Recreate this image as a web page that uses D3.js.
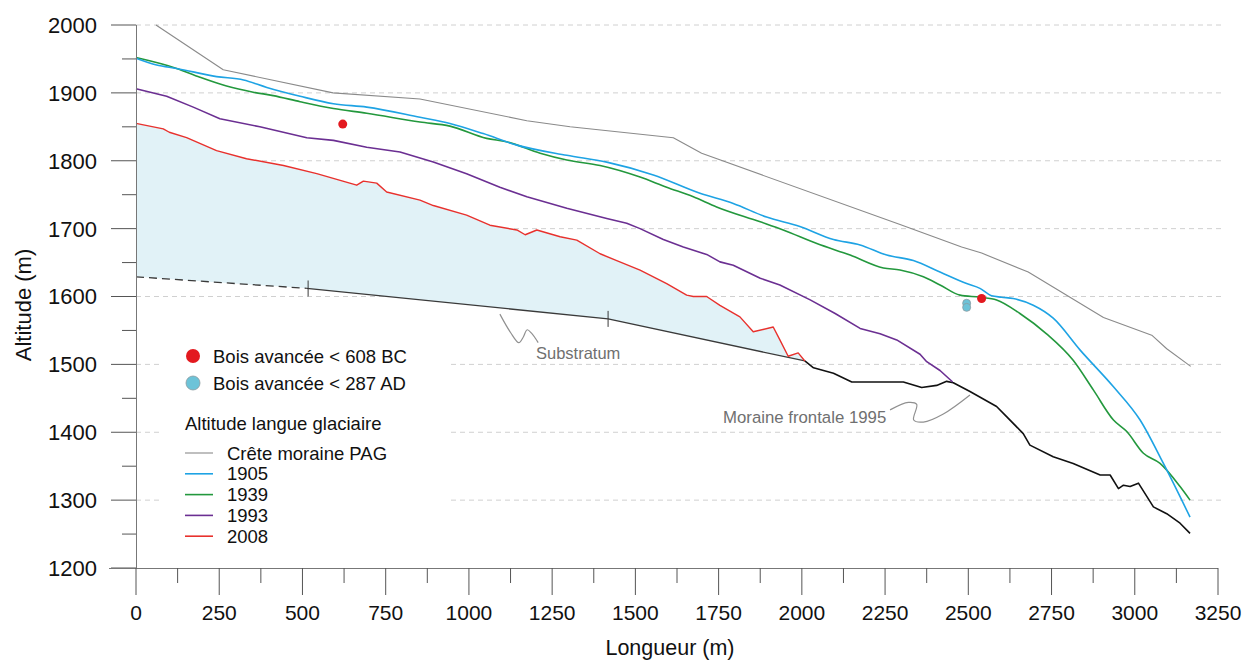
<!DOCTYPE html>
<html lang="fr">
<head>
<meta charset="UTF-8">
<script src="https://cdn.jsdelivr.net/npm/d3@7"></script>
<title>Profil glacier</title>
<style>
  body { margin: 0; background: #fff; }
  text { font-family: "Liberation Sans", Arial, sans-serif; }
</style>
</head>
<body>
<svg width="1246" height="661"></svg>
<script>
// profils en long [longueur (m), altitude (m)]
const moraine = [[60,2000],[262,1934],[592,1900],[853,1891],[1174,1859],[1304,1850],[1614,1834],[1699,1811],[2295,1706],[2480,1673],[2540,1664],[2680,1636],[2906,1569],[3051,1543],[3096,1523],[3168,1497]];
const y1905 = [[0,1951],[62,1941],[122,1936],[242,1924],[323,1919],[393,1908],[493,1895],[593,1884],[693,1879],[853,1864],[943,1855],[1043,1840],[1144,1823],[1294,1808],[1414,1798],[1554,1779],[1694,1752],[1794,1737],[1894,1717],[1994,1703],[2095,1684],[2175,1676],[2255,1661],[2335,1653],[2415,1636],[2495,1619],[2535,1612],[2570,1601],[2600,1599],[2635,1597],[2695,1587],[2755,1568],[2836,1521],[2936,1467],[3016,1418],[3086,1354],[3166,1275]];
const y1939 = [[0,1952],[122,1936],[192,1923],[272,1910],[352,1901],[412,1896],[493,1887],[593,1877],[693,1870],[853,1857],[943,1851],[1053,1833],[1113,1828],[1214,1811],[1294,1801],[1394,1793],[1514,1776],[1594,1761],[1674,1747],[1744,1732],[1875,1710],[1944,1698],[2045,1678],[2145,1661],[2245,1642],[2295,1639],[2365,1629],[2415,1617],[2475,1602],[2535,1599],[2585,1595],[2655,1575],[2735,1545],[2815,1506],[2876,1462],[2936,1418],[2976,1401],[3026,1369],[3076,1354],[3136,1320],[3166,1300]];
const y1993 = [[0,1906],[92,1895],[172,1879],[252,1862],[372,1850],[513,1834],[593,1830],[693,1820],[793,1813],[893,1798],[993,1781],[1093,1761],[1174,1747],[1294,1730],[1414,1715],[1474,1708],[1514,1700],[1584,1684],[1644,1673],[1714,1662],[1754,1651],[1794,1646],[1875,1627],[1934,1617],[2025,1595],[2100,1575],[2175,1553],[2235,1545],[2285,1536],[2355,1515],[2375,1504],[2415,1491],[2453,1474]];
const y2008 = [[0,1855],[82,1847],[100,1842],[152,1834],[242,1815],[332,1803],[443,1793],[543,1781],[663,1764],[683,1770],[723,1767],[753,1754],[853,1742],[893,1734],[993,1720],[1063,1705],[1144,1698],[1169,1691],[1204,1698],[1274,1688],[1324,1683],[1394,1663],[1444,1653],[1514,1639],[1594,1619],[1654,1602],[1674,1600],[1714,1600],[1754,1587],[1814,1570],[1854,1548],[1914,1555],[1934,1536],[1959,1512],[1989,1517],[2009,1505]];
const substratumDash = [[0,1629],[513,1612]];
const substratum = [[513,1612],[1418,1567],[2009,1505]];
const moraine1995 = [[2009,1505],[2035,1495],[2095,1487],[2150,1474],[2305,1474],[2360,1466],[2405,1469],[2435,1475],[2455,1473],[2505,1460],[2585,1438],[2615,1423],[2665,1398],[2685,1381],[2755,1364],[2815,1354],[2896,1337],[2926,1337],[2951,1317],[2966,1322],[2986,1320],[3011,1325],[3056,1290],[3096,1280],[3136,1266],[3166,1251]];
const crossMarks = [517, 1418];
const bois608 = [[621,1854],[2540,1597]];
const bois287 = [[2495,1590],[2495,1584]];

const xTicks = d3.range(0, 3251, 250);
const yTicks = d3.range(1200, 2001, 100);
const gridValues = d3.range(1300, 2001, 100);

const svg = d3.select('svg');
const x = d3.scaleLinear().domain([0, 3250]).range([136, 1218]);
const y = d3.scaleLinear().domain([1200, 2000]).range([568, 25]);

const col = {
  moraine: '#8a8a8a', y1905: '#1ea3e4', y1939: '#23983d',
  y1993: '#6b2f92', y2008: '#e8312d', sub: '#3a3a3a', fill: '#e1f2f7'
};

// quadrillage
svg.append('g').selectAll('line').data(gridValues).join('line')
  .attr('x1', x(0)).attr('x2', 1222)
  .attr('y1', d => y(d)).attr('y2', d => y(d))
  .attr('stroke', '#d0d0d0').attr('stroke-width', 1).attr('stroke-dasharray', '5,4');

// surface remplie entre 2008 et substratum
const bed = substratumDash.concat(substratum.slice(1));
const area = y2008.concat(bed.slice().reverse());
svg.append('path')
  .attr('d', d3.line().x(d => x(d[0])).y(d => y(d[1]))(area) + 'Z')
  .attr('fill', col.fill).attr('stroke', 'none');

const line = d3.line().x(d => x(d[0])).y(d => y(d[1]));
const smooth = d3.line().x(d => x(d[0])).y(d => y(d[1])).curve(d3.curveMonotoneX);

function draw(data, color, w, gen, dash) {
  svg.append('path').attr('d', (gen || line)(data))
    .attr('fill', 'none').attr('stroke', color).attr('stroke-width', w)
    .attr('stroke-linejoin', 'round')
    .attr('stroke-dasharray', dash || null);
}

draw(moraine, col.moraine, 1.1);
draw(substratumDash, col.sub, 1.3, line, '8,5');
draw(substratum, col.sub, 1.3);
draw(moraine1995, '#111', 1.6);
draw(y1993, col.y1993, 1.6);
draw(y2008, col.y2008, 1.4);
draw(y1939, col.y1939, 1.6, smooth);
draw(y1905, col.y1905, 1.6, smooth);

// repères sur le substratum
const subAt = d3.scaleLinear().domain(bed.map(d => d[0])).range(bed.map(d => d[1]));
svg.append('g').selectAll('line').data(crossMarks).join('line')
  .attr('x1', d => x(d)).attr('x2', d => x(d))
  .attr('y1', d => y(subAt(d)) - 8).attr('y2', d => y(subAt(d)) + 8)
  .attr('stroke', col.sub).attr('stroke-width', 1);

// bois
svg.append('g').selectAll('circle').data(bois287).join('circle')
  .attr('cx', d => x(d[0])).attr('cy', d => y(d[1])).attr('r', 4)
  .attr('fill', '#6cc3d8').attr('stroke', '#8a9aa0').attr('stroke-width', 0.8);
svg.append('g').selectAll('circle').data(bois608).join('circle')
  .attr('cx', d => x(d[0])).attr('cy', d => y(d[1])).attr('r', 4.5)
  .attr('fill', '#e3191f');

// annotations
const leader = d3.line().x(d => x(d[0])).y(d => y(d[1])).curve(d3.curveCatmullRom);
const subLeader = [[1093,1574],[1125,1547],[1150,1532],[1163,1540],[1175,1551],[1188,1546],[1208,1532]];
const morLeader = [[2265,1433],[2320,1444],[2345,1441],[2336,1418],[2365,1415],[2425,1427],[2505,1455]];
svg.append('path').attr('d', leader(subLeader)).attr('fill', 'none').attr('stroke', '#909090').attr('stroke-width', 1.2);
svg.append('path').attr('d', leader(morLeader)).attr('fill', 'none').attr('stroke', '#909090').attr('stroke-width', 1.2);
svg.append('text').attr('x', 536).attr('y', 359).text('Substratum')
  .attr('font-size', 16.5).attr('fill', '#707070');
svg.append('text').attr('x', 723).attr('y', 423).text('Moraine frontale 1995')
  .attr('font-size', 16.8).attr('fill', '#707070');

// axes
const yAxisG = svg.append('g');
yAxisG.append('line').attr('x1', 136.5).attr('x2', 136.5).attr('y1', y(2000)).attr('y2', y(1200) + 1)
  .attr('stroke', '#777').attr('stroke-width', 1);
yAxisG.selectAll('.maj').data(yTicks).join('line')
  .attr('x1', 111).attr('x2', 136).attr('y1', d => y(d)).attr('y2', d => y(d))
  .attr('stroke', '#555').attr('stroke-width', 1);
yAxisG.selectAll('.min').data(d3.range(1250, 2000, 100)).join('line')
  .attr('x1', 122).attr('x2', 136).attr('y1', d => y(d)).attr('y2', d => y(d))
  .attr('stroke', '#555').attr('stroke-width', 1);
yAxisG.selectAll('text').data(yTicks).join('text')
  .attr('x', 97).attr('y', d => y(d)).attr('dy', '0.36em')
  .attr('text-anchor', 'end').attr('font-size', 22).attr('fill', '#111').text(d => d);

const xAxisG = svg.append('g');
xAxisG.append('line').attr('x1', 109).attr('x2', 1218).attr('y1', 568.5).attr('y2', 568.5)
  .attr('stroke', '#777').attr('stroke-width', 1);
xAxisG.selectAll('.maj').data(xTicks).join('line')
  .attr('x1', d => x(d)).attr('x2', d => x(d)).attr('y1', 568).attr('y2', 595)
  .attr('stroke', '#555').attr('stroke-width', 1);
xAxisG.selectAll('.min').data(d3.range(125, 3250, 250)).join('line')
  .attr('x1', d => x(d)).attr('x2', d => x(d)).attr('y1', 568).attr('y2', 583)
  .attr('stroke', '#555').attr('stroke-width', 1);
xAxisG.selectAll('text').data(xTicks).join('text')
  .attr('x', d => x(d)).attr('y', 612).attr('dy', '0.36em')
  .attr('text-anchor', 'middle').attr('font-size', 21).attr('fill', '#111').text(d => d);

svg.append('text').attr('x', 670).attr('y', 647).attr('dy', '0.36em')
  .attr('text-anchor', 'middle').attr('font-size', 21.5).attr('fill', '#111').text('Longueur (m)');
svg.append('text').attr('transform', 'translate(23,305) rotate(-90)').attr('dy', '0.36em')
  .attr('text-anchor', 'middle').attr('font-size', 22).attr('fill', '#111').text('Altitude (m)');

// légende
const lg = svg.append('g');
lg.append('rect').attr('x', 160).attr('y', 338).attr('width', 288).attr('height', 212).attr('fill', '#fff');
const dots = [['Bois avancée < 608 BC', '#e3191f', 'none'], ['Bois avancée < 287 AD', '#6cc3d8', '#8a9aa0']];
dots.forEach((d, i) => {
  lg.append('circle').attr('cx', 193).attr('cy', 356 + i * 27).attr('r', 7)
    .attr('fill', d[1]).attr('stroke', d[2]).attr('stroke-width', 0.8);
  lg.append('text').attr('x', 213).attr('y', 356 + i * 27).attr('dy', '0.36em')
    .attr('font-size', 18.5).attr('fill', '#111').text(d[0]);
});
lg.append('text').attr('x', 185).attr('y', 423).attr('dy', '0.36em')
  .attr('font-size', 18.5).attr('fill', '#111').text('Altitude langue glaciaire');
const legendLines = [['Crête moraine PAG', col.moraine], ['1905', col.y1905], ['1939', col.y1939], ['1993', col.y1993], ['2008', col.y2008]];
legendLines.forEach((d, i) => {
  const ly = 453 + i * 20.8;
  lg.append('line').attr('x1', 185).attr('x2', 213).attr('y1', ly).attr('y2', ly)
    .attr('stroke', d[1]).attr('stroke-width', i === 0 ? 1.1 : 1.6);
  lg.append('text').attr('x', 227).attr('y', ly).attr('dy', '0.36em')
    .attr('font-size', 18.5).attr('fill', '#111').text(d[0]);
});
</script>
</body>
</html>
